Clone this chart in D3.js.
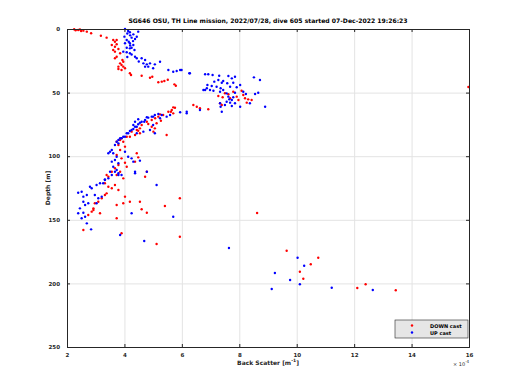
<!DOCTYPE html>
<html>
<head>
<meta charset="utf-8">
<script src="https://cdn.jsdelivr.net/npm/d3@7"></script>
<style>
  body { margin: 0; background: #fff; }
  svg { display: block; }
  text { font-family: "DejaVu Sans", sans-serif; }
  .grid line { stroke: #e3e3e3; }
  .grid path { display: none; }
  .ax path, .ax line { stroke: #262626; }
  .ax text { fill: #262626; font-size: 5.5px; font-weight: bold; }
</style>
</head>
<body>
<div class="chart"></div>
<script>
// down cast: back scatter (x 1e-4 m^-1) and depth (m)
var downScatter = [2.25,2.3,2.45,2.39,2.49,2.57,2.69,2.84,3.18,3.38,3.61,3.67,3.73,3.56,3.67,3.73,3.61,3.67,3.79,3.85,3.73,3.67,3.93,3.96,3.85,3.90,3.79,3.96,4.02,3.90,3.79,4.19,4.23,4.60,4.89,4.97,5.18,5.30,5.39,5.51,5.74,5.79,
  7.50,7.62,7.79,8.08,8.14,8.20,8.31,8.26,8.43,7.91,7.68,7.33,7.39,6.40,6.92,6.63,7.97,7.27,7.42,15.98,
  6.52,5.76,5.65,5.53,5.70,5.35,5.18,5.24,5.07,4.95,4.78,4.60,4.54,4.43,4.25,4.08,3.85,3.73,5.47,
  5.70,5.62,5.27,5.12,5.06,5.01,4.83,4.95,4.54,4.48,4.37,4.19,3.90,3.96,3.79,4.02,3.85,3.73,3.90,3.79,3.67,3.56,3.85,4.02,4.08,4.43,4.48,4.37,4.78,3.96,3.44,3.73,
  3.38,3.32,3.44,3.56,3.38,3.32,3.21,3.09,2.97,2.92,2.86,2.74,2.92,3.15,2.57,3.73,3.73,3.96,4.19,4.54,4.60,4.78,3.90,4.02,5.41,5.93,4.72,3.67,3.79,5.93,5.12,8.62,
  9.65,10.75,10.49,10.11,10.23,12.40,12.11,13.45];
var downDepth = [0.2,1.0,0.3,0.8,1.6,1.3,2.1,3.4,5.3,6.8,8.6,10.0,8.6,12.6,13.9,12.0,16.5,17.8,15.7,19.1,21.8,23.0,24.4,25.7,27.0,28.3,29.6,29.6,30.9,32.2,31.4,34.8,36.2,36.7,38.3,37.5,41.9,41.4,40.9,39.9,43.5,44.6,
  50.5,51.3,49.3,48.5,51.9,54.5,55.3,57.9,55.8,53.2,54.5,58.4,59.7,59.7,63.1,62.3,55.8,52.7,53.7,45.6,
  61.1,61.9,63.7,65.0,66.3,67.6,68.9,67.1,70.2,71.5,72.9,75.5,78.1,79.4,80.7,84.7,87.3,88.6,83.3,
  61.6,65.0,72.1,74.1,78.1,80.7,74.7,76.8,82.0,80.0,83.3,84.7,85.9,88.6,91.2,92.5,95.1,99.1,101.7,106.9,109.5,112.2,112.2,105.1,108.3,97.7,100.9,104.3,112.2,117.4,116.1,114.8,
  114.8,121.3,124.0,125.2,129.2,130.5,133.1,135.8,137.0,141.0,143.6,146.2,142.3,144.9,158.0,148.8,138.4,137.0,135.8,135.8,141.7,144.4,160.6,131.8,139.2,133.1,116.1,122.6,126.6,163.3,169.0,144.7,
  174.3,179.8,185.0,190.8,196.3,200.7,203.6,205.4];

// up cast
var upScatter = [4.02,4.13,4.19,4.31,4.25,4.37,4.08,4.02,4.19,4.31,4.08,4.19,4.25,3.96,4.08,4.19,4.37,4.43,4.60,4.72,4.66,4.78,4.83,4.72,4.89,5.06,5.24,5.00,5.53,5.70,5.82,5.94,4.48,4.43,4.10,4.20,4.00,4.30,4.15,4.35,4.25,4.10,4.50,4.20,
  6.28,6.81,6.92,6.81,6.87,5.99,6.26,7.07,7.30,7.62,7.74,7.85,8.51,8.72,7.13,7.27,7.39,7.44,7.58,7.79,6.89,7.04,7.21,7.35,7.44,7.68,7.91,8.03,6.75,6.98,7.10,7.33,7.56,7.85,8.14,8.23,7.62,7.65,7.74,7.79,7.56,7.68,7.50,7.74,7.85,8.55,8.66,7.33,7.35,7.39,6.17,6.63,8.03,8.90,8.37,
  6.17,5.94,5.59,5.47,5.24,5.00,4.83,4.72,4.60,4.48,4.37,4.31,4.19,4.08,4.02,3.90,3.79,5.00,5.06,4.66,4.43,5.30,5.18,5.06,4.95,4.78,4.69,4.54,4.48,4.37,4.31,4.43,4.25,4.13,3.96,3.85,3.73,3.67,3.79,3.56,3.50,3.44,3.61,3.73,3.67,3.79,3.56,3.61,3.73,3.50,3.79,3.32,4.37,4.78,4.25,4.31,4.13,4.02,4.54,4.89,
  3.67,3.79,3.90,3.56,3.44,3.32,3.15,3.03,2.80,2.86,2.51,2.39,2.69,2.97,2.57,2.57,2.74,2.63,2.45,2.39,2.57,2.51,2.63,2.69,2.84,3.09,3.21,4.37,5.12,4.25,5.70,3.85,4.69,3.26,3.03,7.64,
  10.03,10.26,9.24,9.77,10.11,9.13,11.22,12.65];
var upDepth = [0,1.6,2.6,4.2,6.8,7.9,8.6,11.2,11.2,12.6,14.7,15.2,14.7,17.8,18.3,19.1,21.8,23.0,23.0,24.4,27.0,27.8,29.6,29.6,27.0,27.8,25.7,30.9,32.2,33.6,33.0,32.2,2.1,6.1,3.5,5.0,6.0,9.5,10.0,16.5,20.0,22.0,25.5,13.0,
  34.8,35.6,35.6,48.0,46.6,32.2,34.8,36.2,36.7,36.9,38.8,37.5,38.0,40.1,41.4,40.1,42.2,40.9,42.7,42.2,44.0,44.8,45.4,46.6,48.0,45.4,45.8,44.0,48.0,48.0,48.5,49.3,50.6,50.1,49.3,51.1,53.2,55.3,55.8,53.7,57.2,57.9,59.7,60.5,58.4,51.1,50.1,58.4,61.1,65.0,65.0,63.7,61.1,61.1,58.4,
  66.3,65.5,67.6,68.9,70.2,68.9,69.7,71.5,72.9,74.9,76.8,78.6,80.2,82.0,84.7,85.9,87.3,75.5,82.0,80.7,82.0,67.6,66.8,67.6,68.9,69.4,72.9,73.7,71.0,72.9,75.5,76.8,79.4,82.0,84.7,85.9,88.6,91.2,89.9,95.1,96.5,97.7,97.7,100.4,103.0,105.6,104.3,108.3,110.8,112.2,114.8,118.2,112.2,112.2,101.7,104.3,100.4,96.5,103.5,79.4,
  112.2,113.4,114.8,114.8,117.4,118.7,121.3,122.6,124.0,125.2,127.9,128.7,130.5,130.5,131.8,135.8,137.0,138.4,141.0,144.9,144.4,148.8,147.6,152.8,157.5,133.1,131.8,113.4,122.6,144.9,147.6,162.0,166.7,121.3,137.0,172.2,
  179.8,186.1,191.8,197.3,200.7,204.4,203.4,205.2];

var xTicks = [2,4,6,8,10,12,14,16];
var yTicks = [0,50,100,150,200,250];

var svgWidth = 520;
var svgHeight = 390;
var margin = { top: 29, right: 51, bottom: 43, left: 67 };
var width = svgWidth - margin.left - margin.right;
var height = svgHeight - margin.top - margin.bottom;

var svg = d3.select(".chart")
  .append("svg")
  .attr("width", svgWidth)
  .attr("height", svgHeight);

var chartGroup = svg.append("g")
  .attr("transform", `translate(${margin.left}, ${margin.top})`);

var xScale = d3.scaleLinear().domain([2, 16]).range([0, width]);
var yScale = d3.scaleLinear().domain([0, 250]).range([0, height]);

// grid
chartGroup.append("g")
  .attr("class", "grid")
  .attr("transform", `translate(0, ${height})`)
  .call(d3.axisBottom(xScale).tickValues(xTicks).tickSize(-height).tickFormat(""));
chartGroup.append("g")
  .attr("class", "grid")
  .call(d3.axisLeft(yScale).tickValues(yTicks).tickSize(-width).tickFormat(""));

// points
var downPts = downScatter.map((v, i) => [v, downDepth[i]]);
var upPts = upScatter.map((v, i) => [v, upDepth[i]]);

chartGroup.append("g").selectAll("circle")
  .data(downPts).enter().append("circle")
  .attr("cx", d => xScale(d[0]))
  .attr("cy", d => yScale(d[1]))
  .attr("r", 1.2)
  .attr("fill", "#ff0000");

chartGroup.append("g").selectAll("circle")
  .data(upPts).enter().append("circle")
  .attr("cx", d => xScale(d[0]))
  .attr("cy", d => yScale(d[1]))
  .attr("r", 1.2)
  .attr("fill", "#0000ff");

// axes, ticks pointing in
chartGroup.append("g")
  .attr("class", "ax")
  .attr("transform", `translate(0, ${height})`)
  .call(d3.axisBottom(xScale).tickValues(xTicks).tickSize(-3).tickPadding(6).tickFormat(d3.format("d")));
chartGroup.append("g")
  .attr("class", "ax")
  .call(d3.axisLeft(yScale).tickValues(yTicks).tickSize(-3).tickPadding(7).tickFormat(d3.format("d")));
chartGroup.append("g")
  .attr("class", "ax")
  .call(d3.axisTop(xScale).tickValues(xTicks).tickSize(-3).tickFormat(""));
chartGroup.append("g")
  .attr("class", "ax")
  .attr("transform", `translate(${width}, 0)`)
  .call(d3.axisRight(yScale).tickValues(yTicks).tickSize(-3).tickFormat(""));

// title and labels
svg.append("text")
  .attr("x", margin.left + width / 2)
  .attr("y", 23)
  .attr("text-anchor", "middle")
  .attr("font-size", "6.1px")
  .attr("font-weight", "bold")
  .attr("fill", "#000")
  .text("SG646 OSU, TH Line mission, 2022/07/28, dive 605 started 07-Dec-2022 19:26:23");

var xl = svg.append("text")
  .attr("x", margin.left + width / 2)
  .attr("y", 365)
  .attr("text-anchor", "middle")
  .attr("font-size", "6px")
  .attr("font-weight", "bold")
  .attr("fill", "#262626");
xl.append("tspan").text("Back Scatter [m");
xl.append("tspan").attr("dy", -3).attr("font-size", "4.5px").text("-1");
xl.append("tspan").attr("dy", 3).text("]");

svg.append("text")
  .attr("transform", `translate(50, ${margin.top + height / 2}) rotate(-90)`)
  .attr("text-anchor", "middle")
  .attr("font-size", "6px")
  .attr("font-weight", "bold")
  .attr("fill", "#262626")
  .text("Depth [m]");

var ex = svg.append("text")
  .attr("x", 453)
  .attr("y", 366)
  .attr("font-size", "5px")
  .attr("fill", "#262626");
ex.append("tspan").text("\u00d7 10");
ex.append("tspan").attr("dy", -3).attr("font-size", "4px").text("-4");

// legend
var legend = svg.append("g").attr("transform", "translate(395, 320)");
legend.append("rect")
  .attr("width", 73).attr("height", 18)
  .attr("fill", "#e6e6e6").attr("stroke", "#262626").attr("stroke-width", 0.6);
var legendItems = [["DOWN cast", "#ff0000"], ["UP cast", "#0000ff"]];
legendItems.forEach(function(item, i) {
  legend.append("circle").attr("cx", 17).attr("cy", 5.5 + i * 7).attr("r", 1.2).attr("fill", item[1]);
  legend.append("text").attr("x", 35).attr("y", 7.5 + i * 7)
    .attr("font-size", "5px").attr("font-weight", "bold").attr("fill", "#000").text(item[0]);
});
</script>
</body>
</html>
